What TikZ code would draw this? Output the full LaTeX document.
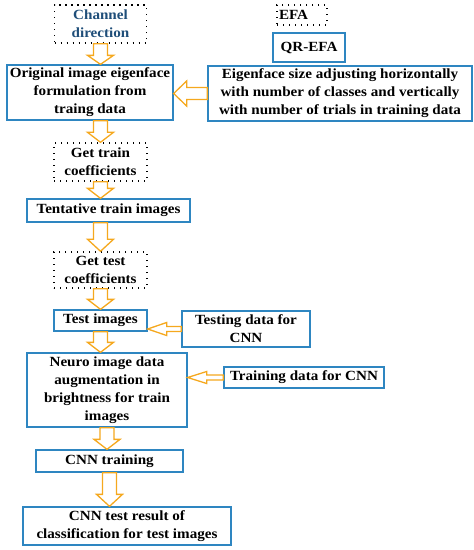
\documentclass[tikz,border=0pt]{standalone}
\usepackage{fontspec}
\setmainfont{Liberation Serif}[FakeStretch=1.08]
\usetikzlibrary{calc}

\definecolor{boxblue}{HTML}{2E86C1}
\definecolor{arrorange}{HTML}{F5A81E}
\definecolor{textnavy}{HTML}{1F4E79}

\tikzset{
	stepbox/.style={draw=boxblue,line width=1.3pt,inner sep=0pt,align=center},
	dotbox/.style={draw=black,line width=1.4pt,dash pattern=on 1.4pt off 4.6pt,inner sep=0pt,align=center},
	fatarrow/.style={draw=arrorange,line width=1.3pt,fill=white,line join=miter}
}

% hollow arrow downwards: start, end, head length
\newcommand{\vfat}[3]{%
	\draw[fatarrow] let \p1=#1, \p2=#2 in
		(\x1-7pt,\y1) -- (\x1-7pt,\y2+#3) -- (\x1-13pt,\y2+#3) -- (\x1,\y2)
		-- (\x1+13pt,\y2+#3) -- (\x1+7pt,\y2+#3) -- (\x1+7pt,\y1) -- cycle;}
% hollow arrow to the left: start, end, shaft half, head half, head length
\newcommand{\hfat}[5]{%
	\draw[fatarrow] let \p1=#1, \p2=#2 in
		(\x1,\y1+#3) -- (\x2+#5,\y1+#3) -- (\x2+#5,\y1+#4) -- (\x2,\y1)
		-- (\x2+#5,\y1-#4) -- (\x2+#5,\y1-#3) -- (\x1,\y1-#3) -- cycle;}

\begin{document}
\begin{tikzpicture}[x=1pt,y=-1pt,every node/.style={font=\fontsize{14}{18}\selectfont\bfseries}]
	\useasboundingbox (0,0) rectangle (474,550);
	% left column
	\node[dotbox,minimum width=92,minimum height=38,text=textnavy] (chan) at (100.5,24) {Channel\\direction};
	\node[stepbox,minimum width=166,minimum height=55] (orig) at (90,92.5) {Original image eigenface\\formulation from\\traing data};
	\node[dotbox,minimum width=93,minimum height=38] (gettrain) at (100.5,162) {Get train\\coefficients};
	\node[stepbox,minimum width=163,minimum height=23] (tent) at (108.5,210.5) {Tentative train images};
	\node[dotbox,minimum width=93,minimum height=36] (gettest) at (100.5,270) {Get test\\coefficients};
	\node[stepbox,minimum width=93,minimum height=21] (testimg) at (100.5,320.5) {Test images};
	\node[stepbox,minimum width=160,minimum height=74] (neuro) at (107,390) {Neuro image data\\augmentation in\\brightness for train\\images};
	\node[stepbox,minimum width=147,minimum height=22] (cnntrain) at (109.5,461) {CNN training};
	\node[stepbox,minimum width=208,minimum height=38] (result) at (127,526) {CNN test result of\\classification for test images};
	% right column
	\node[dotbox,minimum width=50,minimum height=20,text width=46,align=left] (efa) at (302,15) {EFA};
	\node[stepbox,minimum width=72,minimum height=29] (qrefa) at (309,47.5) {QR-EFA};
	\node[stepbox,minimum width=264,minimum height=55] (eigen) at (340,93.5) {Eigenface size adjusting horizontally\\with number of classes and vertically\\with number of trials in training data};
	\node[stepbox,minimum width=128,minimum height=36] (testing) at (246,329) {Testing data for\\CNN};
	\node[stepbox,minimum width=160,minimum height=21] (training) at (304,377.5) {Training data for CNN};
	% arrows
	\vfat{(chan.south)}{(orig.north -| chan.south)}{9pt}
	\vfat{(orig.south -| gettrain.north)}{(gettrain.north)}{10pt}
	\vfat{(gettrain.south)}{(tent.north -| gettrain.south)}{10pt}
	\vfat{(tent.south -| gettest.north)}{(gettest.north)}{12pt}
	\vfat{(gettest.south)}{(testimg.north)}{10pt}
	\vfat{(testimg.south)}{(neuro.north -| testimg.south)}{10pt}
	\vfat{(neuro.south)}{(cnntrain.north -| neuro.south)}{10pt}
	\vfat{(cnntrain.south)}{(result.north -| cnntrain.south)}{12pt}
	\hfat{(eigen.west)}{(orig.east |- eigen.west)}{6pt}{12.5pt}{13pt}
	\hfat{(testing.west)}{(testimg.east |- testing.west)}{2.5pt}{6.5pt}{19pt}
	\hfat{(training.west)}{(neuro.east |- training.west)}{2.5pt}{6pt}{19pt}
\end{tikzpicture}
\end{document}
